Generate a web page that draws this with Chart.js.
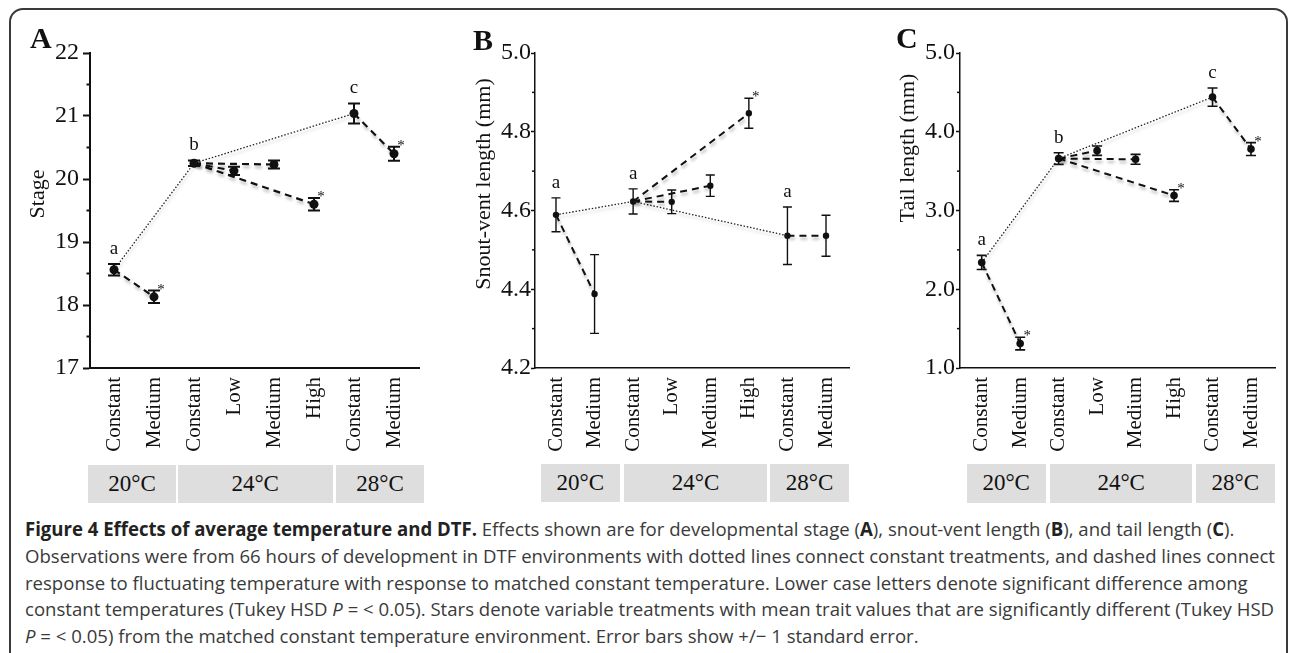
<!DOCTYPE html>
<html>
<head>
<meta charset="utf-8">
<script src="https://cdn.jsdelivr.net/npm/chart.js@4.4.0/dist/chart.umd.min.js"></script>
<style>
  html, body { margin: 0; padding: 0; background: #fff; width: 1290px; height: 653px; overflow: hidden; }
  #fig { position: relative; width: 1290px; height: 653px; }
  .frame { position: absolute; left: 9px; top: 8px; width: 1279px; height: 662px; border: 2px solid #3a3a3a; border-radius: 14px; box-sizing: border-box; }
  canvas { position: absolute; top: 0; }
  .plab { position: absolute; font: bold 30px 'Liberation Serif', serif; line-height: 30px; color: #111; }
  .ytitle { position: absolute; font: 22px 'Liberation Serif', serif; line-height: 24px; color: #111; white-space: nowrap; transform: translate(-50%, -50%) rotate(-90deg); }
  .tbox { position: absolute; background: #dedede; display: flex; align-items: center; justify-content: center; font: 23px 'Liberation Serif', serif; color: #111; }
  #caption { position: absolute; left: 25px; top: 516px; font: 19px 'Open Sans', sans-serif; color: #3a3a3a; }
  #caption div { line-height: 26.8px; white-space: nowrap; transform-origin: 0 0; width: max-content; }
  #caption b { color: #222; }
</style>
</head>
<body>
<div id="fig">
  <div class="frame"></div>

  <canvas id="chartA" width="430" height="460" style="left:0px"></canvas>
  <canvas id="chartB" width="430" height="460" style="left:430px"></canvas>
  <canvas id="chartC" width="430" height="460" style="left:860px"></canvas>

  <div class="plab" style="left:30px;top:23px">A</div>
  <div class="plab" style="left:473px;top:25px">B</div>
  <div class="plab" style="left:896px;top:23px">C</div>

  <div class="ytitle" style="left:37px;top:194px">Stage</div>
  <div class="ytitle" style="left:483px;top:184px">Snout-vent length (mm)</div>
  <div class="ytitle" style="left:907px;top:148px">Tail length (mm)</div>

  <div id="boxes"></div>

  <div id="caption">
    <div id="cap1"><b>Figure 4 Effects of average temperature and DTF.</b> Effects shown are for developmental stage (<b>A</b>), snout-vent length (<b>B</b>), and tail length (<b>C</b>).</div>
    <div id="cap2">Observations were from 66 hours of development in DTF environments with dotted lines connect constant treatments, and dashed lines connect</div>
    <div id="cap3">response to fluctuating temperature with response to matched constant temperature. Lower case letters denote significant difference among</div>
    <div id="cap4">constant temperatures (Tukey HSD <i>P</i> = &lt; 0.05). Stars denote variable treatments with mean trait values that are significantly different (Tukey HSD</div>
    <div id="cap5"><i>P</i> = &lt; 0.05) from the matched constant temperature environment. Error bars show +/− 1 standard error.</div>
  </div>
</div>

<script>
// 处理组（横轴）
const categories = ['Constant', 'Medium', 'Constant', 'Low', 'Medium', 'High', 'Constant', 'Medium'];
const tempGroups = ['20°C', '24°C', '28°C'];

// A: 发育阶段
const stageMean = [18.56, 18.13, 20.25, 20.13, 20.23, 19.60, 21.04, 20.40];
const stageSE   = [0.09, 0.10, 0.045, 0.065, 0.065, 0.10, 0.16, 0.11];
const stageLetters = ['a', '', 'b', '', '', '', 'c', ''];
const stageStars   = [0, 1, 0, 0, 0, 1, 0, 1];

// B: 吻肛长
const svlMean = [4.589, 4.388, 4.623, 4.622, 4.663, 4.847, 4.536, 4.536];
const svlSE   = [0.043, 0.10, 0.032, 0.030, 0.027, 0.038, 0.073, 0.052];
const svlLetters = ['a', '', 'a', '', '', '', 'a', ''];
const svlStars   = [0, 0, 0, 0, 0, 1, 0, 0];

// C: 尾长
const tailMean = [2.34, 1.31, 3.66, 3.76, 3.65, 3.19, 4.44, 3.78];
const tailSE   = [0.09, 0.08, 0.074, 0.06, 0.063, 0.074, 0.116, 0.082];
const tailLetters = ['a', '', 'b', '', '', '', 'c', ''];
const tailStars   = [0, 1, 0, 0, 0, 1, 0, 1];

// 连线：点线连恒温组，虚线连波动组与对应恒温组
const dottedPath = [0, 2, 6];
const dashedPairs = [[0, 1], [2, 3], [2, 4], [2, 5], [6, 7]];

const SERIF = "'Liberation Serif', 'Times New Roman', serif";
const INK = '#111';

function makeOverlay(p) {
  return {
    id: 'overlay',
    beforeDatasetDraw(chart, args) {
      const ds = chart.data.datasets[args.index];
      if (!ds.isLink) return;
      const ctx = chart.ctx;
      ctx.save();
      ctx.shadowColor = 'rgba(0,0,0,0.28)';
      ctx.shadowBlur = 3;
      ctx.shadowOffsetX = 1;
      ctx.shadowOffsetY = 3;
    },
    afterDatasetDraw(chart, args) {
      if (chart.data.datasets[args.index].isLink) chart.ctx.restore();
    },
    afterDraw(chart) {
      const ctx = chart.ctx;
      const xs = chart.scales.x, ys = chart.scales.y;
      ctx.save();
      ctx.strokeStyle = INK;
      ctx.fillStyle = INK;

      // 误差线
      ctx.lineWidth = p.ebWidth;
      p.mean.forEach((m, i) => {
        const x = xs.getPixelForValue(i);
        const yt = ys.getPixelForValue(m + p.se[i]);
        const yb = ys.getPixelForValue(m - p.se[i]);
        ctx.beginPath();
        ctx.moveTo(x, yt); ctx.lineTo(x, yb);
        ctx.moveTo(x - p.cap, yt); ctx.lineTo(x + p.cap, yt);
        ctx.moveTo(x - p.cap, yb); ctx.lineTo(x + p.cap, yb);
        ctx.stroke();
      });

      // 字母和星号
      ctx.textAlign = 'center';
      ctx.textBaseline = 'alphabetic';
      p.mean.forEach((m, i) => {
        const x = xs.getPixelForValue(i);
        const yt = ys.getPixelForValue(m + p.se[i]);
        if (p.letters[i]) {
          ctx.font = '19px ' + SERIF;
          ctx.fillText(p.letters[i], x, yt - 10);
        }
        if (p.stars[i]) {
          ctx.font = '15px ' + SERIF;
          ctx.fillText('*', x + 7, yt + 3);
        }
      });

      // 次刻度
      ctx.lineWidth = p.axisWidth;
      const t = ys.ticks;
      for (let k = 0; k < t.length - 1; k++) {
        const y = ys.getPixelForValue((t[k].value + t[k + 1].value) / 2);
        ctx.beginPath();
        ctx.moveTo(chart.chartArea.left - p.minorLen, y);
        ctx.lineTo(chart.chartArea.left, y);
        ctx.stroke();
      }
      ctx.restore();
    }
  };
}

function drawPanel(id, p) {
  const canvas = document.getElementById(id);
  const H = canvas.height;

  const datasets = [];
  datasets.push({
    isLink: true,
    data: dottedPath.map(i => ({ x: i, y: p.mean[i] })),
    showLine: true,
    borderColor: '#222',
    borderWidth: 1.3,
    borderDash: [1.5, 1.8],
    pointRadius: 0,
    tension: 0,
  });
  dashedPairs.forEach(pair => {
    datasets.push({
      isLink: true,
      data: pair.map(i => ({ x: i, y: p.mean[i] })),
      showLine: true,
      borderColor: INK,
      borderWidth: p.dashWidth,
      borderDash: [7, 5],
      pointRadius: 0,
      tension: 0,
    });
  });
  datasets.push({
    data: p.mean.map((m, i) => ({ x: i, y: m })),
    showLine: false,
    pointRadius: p.r,
    pointBackgroundColor: INK,
    pointBorderColor: INK,
    pointBorderWidth: 0,
  });

  return new Chart(canvas, {
    type: 'scatter',
    data: { datasets },
    options: {
      responsive: false,
      animation: false,
      events: [],
      layout: { padding: { top: 53, right: p.padRight, left: 0, bottom: 0 } },
      plugins: { legend: { display: false }, tooltip: { enabled: false } },
      scales: {
        x: {
          type: 'linear',
          min: p.xMin,
          max: p.xMax,
          afterBuildTicks: s => { s.ticks = categories.map((_, i) => ({ value: i })); },
          afterFit: s => { s.height = H - 368; s.paddingLeft = 0; s.paddingRight = 0; },
          ticks: {
            autoSkip: false,
            minRotation: 90,
            maxRotation: 90,
            padding: 9,
            color: INK,
            font: { family: SERIF, size: 21 },
            callback: v => categories[v],
          },
          grid: { drawOnChartArea: false, drawTicks: false },
          border: { color: INK, width: p.axisWidth },
        },
        y: {
          min: p.yMin,
          max: p.yMax,
          afterFit: s => { s.width = p.axisLeft; },
          ticks: {
            stepSize: p.yStep,
            padding: p.tickPad,
            color: INK,
            font: { family: SERIF, size: 24 },
            callback: v => v.toFixed(p.decimals),
          },
          grid: { drawOnChartArea: false, drawTicks: true, tickLength: p.tickLen, tickColor: INK, tickWidth: p.axisWidth },
          border: { color: INK, width: p.axisWidth },
        }
      }
    },
    plugins: [makeOverlay(p)]
  });
}

drawPanel('chartA', {
  mean: stageMean, se: stageSE, letters: stageLetters, stars: stageStars,
  yMin: 17, yMax: 22, yStep: 1, decimals: 0,
  xMin: -0.6, xMax: 7.625, axisLeft: 90, padRight: 11,
  r: 4.5, cap: 6, ebWidth: 2, dashWidth: 2.2, axisWidth: 2,
  tickLen: 7, tickPad: 4, minorLen: 3.5,
});
drawPanel('chartB', {
  mean: svlMean, se: svlSE, letters: svlLetters, stars: svlStars,
  yMin: 4.2, yMax: 5.0, yStep: 0.2, decimals: 1,
  xMin: -0.544, xMax: 7.596, axisLeft: 105, padRight: 11,
  r: 3.2, cap: 4.5, ebWidth: 1.4, dashWidth: 2, axisWidth: 1.5,
  tickLen: 4, tickPad: 0, minorLen: 3,
});
drawPanel('chartC', {
  mean: tailMean, se: tailSE, letters: tailLetters, stars: tailStars,
  yMin: 1.0, yMax: 5.0, yStep: 1, decimals: 1,
  xMin: -0.564, xMax: 7.624, axisLeft: 100, padRight: 15,
  r: 3.8, cap: 5, ebWidth: 1.6, dashWidth: 2, axisWidth: 1.5,
  tickLen: 4, tickPad: 1, minorLen: 3,
});

// 温度分组框
const boxSpans = [
  { top: 465, bottom: 503, cols: [[87.7, 176.3], [177.7, 332.7], [335.7, 424.3]] },
  { top: 463.5, bottom: 501.7, cols: [[540.7, 620], [624.3, 766.7], [770, 849]] },
  { top: 464, bottom: 502.7, cols: [[966.7, 1045.7], [1050, 1192.3], [1195.7, 1275]] },
];
const boxes = document.getElementById('boxes');
boxSpans.forEach(panel => {
  panel.cols.forEach((c, k) => {
    const d = document.createElement('div');
    d.className = 'tbox';
    d.style.left = c[0] + 'px';
    d.style.width = (c[1] - c[0]) + 'px';
    d.style.top = panel.top + 'px';
    d.style.height = (panel.bottom - panel.top) + 'px';
    d.textContent = tempGroups[k];
    boxes.appendChild(d);
  });
});

// 图注：按第二行宽度统一横向缩放
const ref = document.getElementById('cap2');
const sx = 1250 / ref.getBoundingClientRect().width;
['cap1', 'cap2', 'cap3', 'cap4', 'cap5'].forEach(id => {
  document.getElementById(id).style.transform = 'scaleX(' + sx + ')';
});
</script>
</body>
</html>
